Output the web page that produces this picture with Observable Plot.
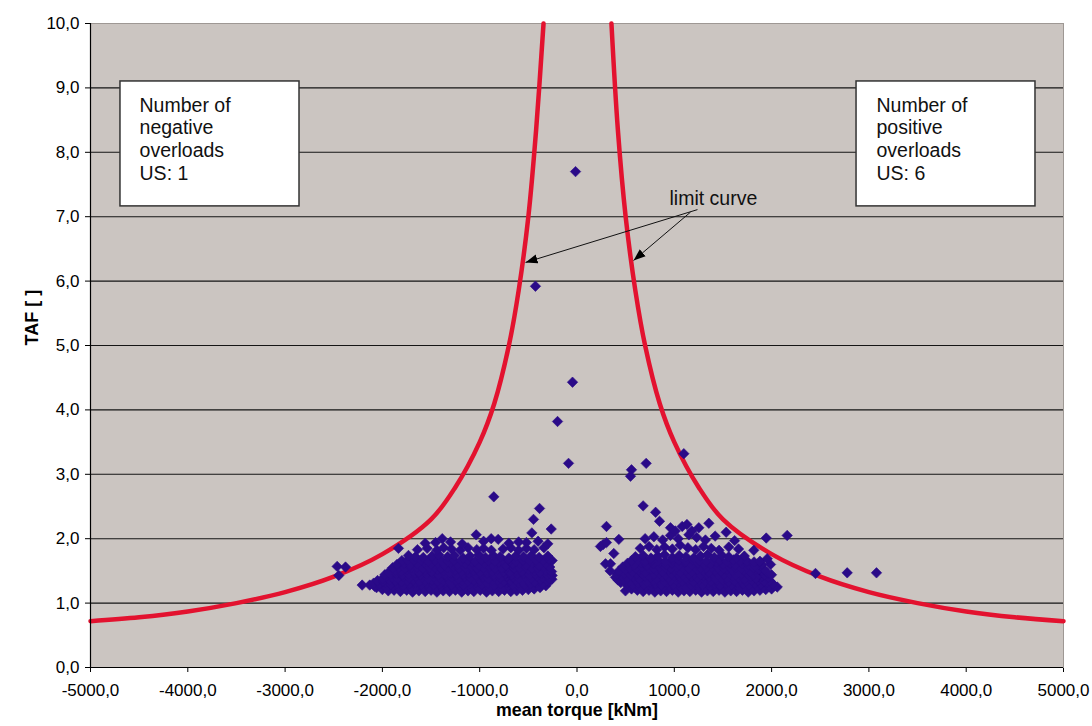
<!DOCTYPE html>
<html><head><meta charset="utf-8">
<script src="https://cdn.jsdelivr.net/npm/d3@7"></script>
<script src="https://cdn.jsdelivr.net/npm/@observablehq/plot@0.6"></script>
<style>body{margin:0;background:#fff;}</style>
</head><body><div id="chart"></div>
<script>
const xTicks = [-5000,-4000,-3000,-2000,-1000,0,1000,2000,3000,4000,5000];
const yTicks = [0,1,2,3,4,5,6,7,8,9,10];

const limitTorqueNeg = [-5000,-4500,-4000,-3500,-3000,-2500,-2000,-1500,-1250,-1000,-850,-700,-600,-500,-420,-344];
const limitTafNeg    = [0.72,0.78,0.87,1.0,1.17,1.41,1.76,2.3,2.8,3.5,4.1,5.0,5.85,7.0,8.35,10.0];
const limitTorquePos = [354,420,500,600,700,850,1000,1250,1500,2000,2500,3000,3500,4000,4500,5000];
const limitTafPos    = [10.0,8.35,7.0,5.85,5.0,4.1,3.5,2.8,2.3,1.76,1.41,1.17,1.0,0.87,0.78,0.72];

const negativePoints = [
[-2060,1.24],[-2000,1.21],[-1940,1.19],[-1880,1.2],[-1815,1.18],[-1750,1.2],[-1690,1.17],[-1625,1.19],[-1560,1.18],[-1500,1.2],[-1440,1.17],[-1375,1.19],[-1310,1.18],[-1250,1.2],[-1185,1.17],[-1120,1.19],[-1060,1.18],[-995,1.2],[-930,1.17],[-870,1.19],[-805,1.18],[-745,1.2],[-680,1.18],[-620,1.19],[-560,1.2],[-500,1.21],[-440,1.22],[-380,1.24],[-320,1.27],
[-2080,1.26],[-2015,1.25],[-1955,1.24],[-1895,1.26],[-1830,1.25],[-1770,1.23],[-1705,1.25],[-1645,1.26],[-1580,1.24],[-1520,1.25],[-1455,1.23],[-1395,1.26],[-1330,1.25],[-1270,1.24],[-1205,1.26],[-1145,1.25],[-1080,1.23],[-1020,1.25],[-955,1.26],[-895,1.24],[-830,1.25],[-770,1.23],[-705,1.26],[-645,1.25],[-580,1.24],[-520,1.26],[-460,1.25],[-400,1.27],[-340,1.3],
[-2130,1.28],[-2090,1.31],[-2030,1.3],[-1970,1.32],[-1910,1.29],[-1850,1.31],[-1785,1.28],[-1725,1.3],[-1660,1.32],[-1600,1.29],[-1540,1.31],[-1475,1.28],[-1415,1.3],[-1350,1.32],[-1290,1.29],[-1225,1.31],[-1165,1.28],[-1100,1.3],[-1040,1.32],[-975,1.29],[-915,1.31],[-850,1.28],[-790,1.3],[-725,1.32],[-665,1.29],[-600,1.31],[-540,1.28],[-475,1.3],[-415,1.32],[-355,1.3],[-290,1.33],
[-2050,1.35],[-1990,1.34],[-1925,1.36],[-1865,1.35],[-1800,1.33],[-1740,1.35],[-1680,1.36],[-1615,1.34],[-1555,1.35],[-1490,1.36],[-1430,1.34],[-1370,1.35],[-1305,1.33],[-1245,1.36],[-1180,1.35],[-1120,1.34],[-1060,1.36],[-995,1.35],[-935,1.33],[-870,1.35],[-810,1.36],[-750,1.34],[-685,1.35],[-625,1.36],[-560,1.34],[-500,1.35],[-440,1.33],[-375,1.36],[-310,1.35],[-258,1.37],
[-2000,1.38],[-1960,1.42],[-1900,1.4],[-1840,1.38],[-1780,1.41],[-1720,1.39],[-1655,1.42],[-1595,1.4],[-1530,1.38],[-1470,1.41],[-1410,1.39],[-1345,1.42],[-1285,1.4],[-1220,1.38],[-1160,1.41],[-1095,1.39],[-1035,1.42],[-970,1.4],[-910,1.38],[-845,1.41],[-785,1.39],[-720,1.42],[-660,1.4],[-595,1.38],[-535,1.41],[-470,1.39],[-410,1.42],[-350,1.4],[-285,1.38],
[-1975,1.44],[-1915,1.45],[-1855,1.46],[-1790,1.44],[-1730,1.45],[-1665,1.46],[-1605,1.44],[-1545,1.45],[-1480,1.46],[-1420,1.44],[-1355,1.45],[-1295,1.46],[-1235,1.44],[-1170,1.45],[-1110,1.46],[-1045,1.44],[-985,1.45],[-925,1.46],[-860,1.44],[-800,1.45],[-735,1.46],[-675,1.44],[-610,1.45],[-550,1.46],[-490,1.44],[-425,1.45],[-365,1.46],[-300,1.44],[-255,1.43],
[-1937,1.48],[-1870,1.51],[-1810,1.49],[-1745,1.52],[-1685,1.5],[-1620,1.48],[-1560,1.51],[-1495,1.49],[-1435,1.52],[-1375,1.5],[-1310,1.48],[-1250,1.51],[-1185,1.49],[-1125,1.52],[-1060,1.5],[-1000,1.48],[-940,1.51],[-875,1.49],[-815,1.52],[-750,1.5],[-690,1.48],[-625,1.51],[-565,1.49],[-500,1.52],[-440,1.5],[-380,1.48],[-320,1.51],[-262,1.49],
[-1895,1.55],[-1830,1.56],[-1770,1.54],[-1705,1.55],[-1645,1.56],[-1585,1.54],[-1520,1.55],[-1460,1.56],[-1395,1.54],[-1335,1.55],[-1270,1.56],[-1210,1.54],[-1150,1.55],[-1085,1.56],[-1025,1.54],[-960,1.55],[-900,1.56],[-840,1.54],[-775,1.55],[-715,1.56],[-650,1.54],[-590,1.55],[-530,1.56],[-465,1.54],[-405,1.55],[-345,1.56],[-280,1.56],
[-1850,1.6],[-1780,1.62],[-1710,1.59],[-1640,1.61],[-1570,1.63],[-1500,1.6],[-1430,1.62],[-1360,1.59],[-1300,1.63],[-1230,1.6],[-1150,1.61],[-1080,1.63],[-1010,1.59],[-950,1.62],[-870,1.6],[-800,1.63],[-730,1.59],[-660,1.61],[-590,1.62],[-520,1.6],[-455,1.63],[-390,1.59],[-320,1.62],[-255,1.66],
[-1800,1.66],[-1740,1.67],[-1675,1.66],[-1600,1.67],[-1530,1.65],[-1460,1.67],[-1395,1.66],[-1330,1.65],[-1265,1.67],[-1190,1.66],[-1120,1.67],[-1045,1.65],[-980,1.67],[-910,1.66],[-840,1.65],[-765,1.67],[-695,1.66],[-625,1.65],[-555,1.67],[-490,1.66],[-420,1.67],[-350,1.66],[-285,1.68],
[-1732,1.74],[-1660,1.72],[-1580,1.71],[-1490,1.73],[-1420,1.75],[-1330,1.72],[-1260,1.74],[-1170,1.7],[-1100,1.73],[-1010,1.75],[-940,1.71],[-860,1.74],[-790,1.72],[-700,1.7],[-630,1.73],[-550,1.72],[-470,1.74],[-390,1.71],[-300,1.73],
[-1640,1.83],[-1540,1.85],[-1440,1.82],[-1370,1.86],[-1290,1.84],[-1200,1.82],[-1120,1.86],[-1030,1.83],[-960,1.85],[-880,1.82],[-760,1.84],[-680,1.86],[-600,1.82],[-520,1.85],[-440,1.83],[-340,1.86],
[-1560,1.93],[-1454,1.94],[-1385,2.0],[-1300,1.95],[-1180,1.92],[-1036,2.06],[-960,1.96],[-882,2.0],[-810,1.99],[-700,1.93],[-600,1.95],[-520,1.94],[-464,2.09],[-400,1.96],[-300,1.92],
[-1835,1.85],[-2208,1.28],[-2465,1.57],[-2379,1.56],[-2448,1.43],[-855,2.65],[-385,2.47],[-447,2.30],[-265,2.15],[-427,5.92],[-15,7.70],[-46,4.43],[-200,3.82],[-87,3.17]
];

const positivePoints = [
[560,1.22],[620,1.2],[680,1.18],[740,1.2],[800,1.17],[860,1.19],[920,1.18],[980,1.2],[1040,1.17],[1100,1.19],[1160,1.18],[1220,1.2],[1280,1.17],[1340,1.19],[1400,1.18],[1460,1.2],[1520,1.17],[1580,1.19],[1640,1.18],[1700,1.2],[1760,1.17],[1820,1.19],[1880,1.2],[1940,1.21],[2000,1.22],[2058,1.25],
[525,1.26],[590,1.25],[650,1.24],[710,1.26],[770,1.25],[830,1.23],[890,1.25],[950,1.26],[1010,1.24],[1070,1.25],[1130,1.23],[1190,1.26],[1250,1.25],[1310,1.24],[1370,1.26],[1430,1.25],[1490,1.23],[1550,1.25],[1610,1.26],[1670,1.24],[1730,1.25],[1790,1.23],[1850,1.26],[1910,1.25],[1970,1.26],[2030,1.27],
[450,1.32],[510,1.3],[570,1.28],[630,1.31],[690,1.29],[750,1.32],[810,1.3],[870,1.28],[930,1.31],[990,1.29],[1050,1.32],[1110,1.3],[1170,1.28],[1230,1.31],[1290,1.29],[1350,1.32],[1410,1.3],[1470,1.28],[1530,1.31],[1590,1.29],[1650,1.32],[1710,1.3],[1770,1.28],[1830,1.31],[1890,1.29],[1950,1.32],[2010,1.3],
[420,1.36],[480,1.35],[540,1.34],[600,1.36],[660,1.35],[720,1.33],[780,1.35],[840,1.36],[900,1.34],[960,1.35],[1020,1.36],[1080,1.34],[1140,1.35],[1200,1.33],[1260,1.36],[1320,1.35],[1380,1.34],[1440,1.36],[1500,1.35],[1560,1.33],[1620,1.35],[1680,1.36],[1740,1.34],[1800,1.35],[1860,1.36],[1920,1.34],[1980,1.35],
[396,1.40],[460,1.42],[520,1.39],[580,1.41],[640,1.38],[700,1.42],[760,1.4],[820,1.38],[880,1.41],[940,1.39],[1000,1.42],[1060,1.4],[1120,1.38],[1180,1.41],[1240,1.39],[1300,1.42],[1360,1.4],[1420,1.38],[1480,1.41],[1540,1.39],[1600,1.42],[1660,1.4],[1720,1.38],[1780,1.41],[1840,1.39],[1900,1.42],[1960,1.4],
[410,1.45],[490,1.46],[550,1.44],[610,1.45],[670,1.46],[730,1.44],[790,1.45],[850,1.46],[910,1.44],[970,1.45],[1030,1.46],[1090,1.44],[1150,1.45],[1210,1.46],[1270,1.44],[1330,1.45],[1390,1.46],[1450,1.44],[1510,1.45],[1570,1.46],[1630,1.44],[1690,1.45],[1750,1.46],[1810,1.44],[1870,1.45],[1930,1.44],
[430,1.5],[500,1.52],[570,1.49],[640,1.51],[700,1.48],[760,1.52],[820,1.5],[880,1.49],[940,1.52],[1000,1.5],[1060,1.48],[1120,1.51],[1180,1.49],[1240,1.52],[1300,1.5],[1360,1.48],[1420,1.51],[1480,1.49],[1540,1.52],[1600,1.5],[1660,1.48],[1720,1.51],[1780,1.49],[1840,1.52],[1900,1.5],[1955,1.47],
[470,1.56],[540,1.55],[610,1.54],[670,1.56],[730,1.55],[790,1.54],[850,1.56],[910,1.55],[970,1.54],[1030,1.56],[1090,1.55],[1150,1.54],[1210,1.56],[1270,1.55],[1330,1.54],[1390,1.56],[1450,1.55],[1510,1.54],[1570,1.56],[1630,1.55],[1690,1.54],[1750,1.56],[1810,1.55],[1870,1.53],[1925,1.52],
[520,1.62],[590,1.6],[660,1.63],[720,1.59],[790,1.61],[850,1.63],[920,1.6],[980,1.62],[1050,1.59],[1110,1.63],[1180,1.6],[1240,1.62],[1310,1.59],[1370,1.61],[1440,1.63],[1500,1.6],[1570,1.62],[1630,1.59],[1700,1.61],[1760,1.6],[1830,1.58],[1900,1.6],[1989,1.6],
[560,1.66],[630,1.67],[700,1.65],[770,1.67],[840,1.66],[910,1.65],[980,1.67],[1050,1.66],[1120,1.65],[1190,1.67],[1260,1.66],[1330,1.65],[1400,1.67],[1470,1.66],[1540,1.65],[1610,1.67],[1680,1.66],[1750,1.65],[1820,1.64],[1880,1.65],
[600,1.72],[680,1.74],[760,1.7],[830,1.73],[900,1.75],[980,1.71],[1050,1.74],[1120,1.72],[1200,1.7],[1270,1.73],[1340,1.75],[1410,1.71],[1490,1.74],[1560,1.72],[1640,1.7],[1720,1.73],[1817,1.82],[1955,1.69],
[650,1.85],[740,1.88],[820,1.83],[900,1.87],[980,1.84],[1060,1.9],[1140,1.86],[1220,1.83],[1300,1.88],[1380,1.85],[1460,1.82],[1560,1.87],[1660,1.84],
[700,2.0],[790,2.03],[880,1.98],[960,2.05],[1040,2.0],[1150,2.06],[1230,2.02],[1320,1.98],[1420,2.04],[1533,2.1],[1620,1.97],[1945,2.01],[2160,2.05],
[848,2.27],[808,2.41],[680,2.51],[961,2.17],[1081,2.19],[1252,2.17],[1355,2.24],[1130,2.22],[1010,2.12],[1180,2.12],
[303,2.19],[430,1.99],[269,1.91],[241,1.88],[303,1.94],[378,1.77],[293,1.61],[344,1.61],[498,1.19],[340,1.5],
[711,3.17],[560,3.07],[550,2.97],[1098,3.32],[2451,1.46],[2777,1.47],[3078,1.47],[1999,1.44]
];

// annotation boxes (data coordinates)
const boxX1 = [-4692, 2873];
const boxX2 = [-2852, 4712];
const boxY1 = [7.16, 7.16];
const boxY2 = [9.10, 9.10];
const boxTexts = ["Number of\nnegative\noverloads\nUS: 1", "Number of\npositive\noverloads\nUS: 6"];
const boxTextX = [-4496, 3078];
const boxTextY = [8.88, 8.88];

// limit curve annotation
const labelText = ["limit curve"];
const labelX = [951];
const labelY = [7.28];
const arrowFromX = [1238, 1166];
const arrowFromY = [7.11, 7.07];
const arrowToX = [-529, 581];
const arrowToY = [6.29, 6.32];

const fmt = d => d.toFixed(1).replace(".", ",");
const limitNeg = limitTorqueNeg.map((x, i) => ({x, y: limitTafNeg[i]}));
const limitPos = limitTorquePos.map((x, i) => ({x, y: limitTafPos[i]}));
const points = negativePoints.concat(positivePoints).map(([x, y]) => ({x, y}));
const boxes = boxX1.map((x1, i) => ({x1, x2: boxX2[i], y1: boxY1[i], y2: boxY2[i], text: boxTexts[i], tx: boxTextX[i], ty: boxTextY[i]}));
const arrows = arrowFromX.map((x1, i) => ({x1, y1: arrowFromY[i], x2: arrowToX[i], y2: arrowToY[i]}));
const labels = labelText.map((t, i) => ({t, x: labelX[i], y: labelY[i]}));

const chart = Plot.plot({
  width: 1092, height: 726,
  marginLeft: 90, marginRight: 29, marginTop: 23, marginBottom: 59,
  style: {fontFamily: "'Liberation Sans', Arial, sans-serif", fontSize: "17px", background: "#fff", color: "#000"},
  x: {domain: [-5000, 5000], ticks: xTicks, tickFormat: fmt, tickSize: 5, tickPadding: 11, label: null},
  y: {domain: [0, 10], ticks: yTicks, tickFormat: fmt, tickSize: 5, tickPadding: 6, label: null},
  marks: [
    Plot.frame({fill: "#cbc5c1", stroke: "#9e9894"}),
    Plot.ruleY(yTicks.filter(d => d > 0 && d < 10), {stroke: "#151515", strokeWidth: 1.1}),
    Plot.line(limitNeg, {x: "x", y: "y", stroke: "#e3122f", strokeWidth: 4.5, curve: "catmull-rom"}),
    Plot.line(limitPos, {x: "x", y: "y", stroke: "#e3122f", strokeWidth: 4.5, curve: "catmull-rom"}),
    Plot.dot(points, {x: "x", y: "y", symbol: "diamond2", r: 4.7, fill: "#2a0a88", stroke: "#2a0a88", strokeWidth: 0.6}),
    Plot.rect(boxes, {x1: "x1", x2: "x2", y1: "y1", y2: "y2", fill: "#fff", stroke: "#333", strokeWidth: 1.5}),
    Plot.text(boxes, {x: "tx", y: "ty", text: "text", textAnchor: "start", lineAnchor: "top", fontSize: 19.5, lineHeight: 1.16, fill: "#111"}),
    Plot.text(labels, {x: "x", y: "y", text: "t", textAnchor: "start", fontSize: 19.5, fill: "#111"}),
    Plot.link(arrows, {x1: "x1", y1: "y1", x2: "x2", y2: "y2", stroke: "#111", strokeWidth: 1, className: "annot-arrow"}),
    Plot.ruleX([-5000], {stroke: "#000", strokeWidth: 1.2}),
    Plot.ruleY([0], {stroke: "#000", strokeWidth: 1.2}),
    Plot.text(["mean torque [kNm]"], {frameAnchor: "bottom", dy: 48, fontWeight: "bold", fontSize: 17.8}),
    Plot.text(["TAF [ ]"], {frameAnchor: "left", dx: -58, rotate: -90, fontWeight: "bold", fontSize: 18})
  ]
});

// filled arrowheads for the annotation arrows
const ns = "http://www.w3.org/2000/svg";
const defs = document.createElementNS(ns, "defs");
const marker = document.createElementNS(ns, "marker");
marker.setAttribute("id", "ahead");
marker.setAttribute("viewBox", "-12 -5 13 10");
marker.setAttribute("markerWidth", "13");
marker.setAttribute("markerHeight", "10");
marker.setAttribute("markerUnits", "userSpaceOnUse");
marker.setAttribute("orient", "auto");
marker.setAttribute("refX", "0");
marker.setAttribute("refY", "0");
const mp = document.createElementNS(ns, "path");
mp.setAttribute("d", "M-12,-4.5L0,0L-12,4.5Z");
mp.setAttribute("fill", "#000");
marker.appendChild(mp);
defs.appendChild(marker);
chart.insertBefore(defs, chart.firstChild);
chart.querySelectorAll(".annot-arrow path, g.annot-arrow path").forEach(p => p.setAttribute("marker-end", "url(#ahead)"));

document.getElementById("chart").appendChild(chart);
</script>
</body></html>
